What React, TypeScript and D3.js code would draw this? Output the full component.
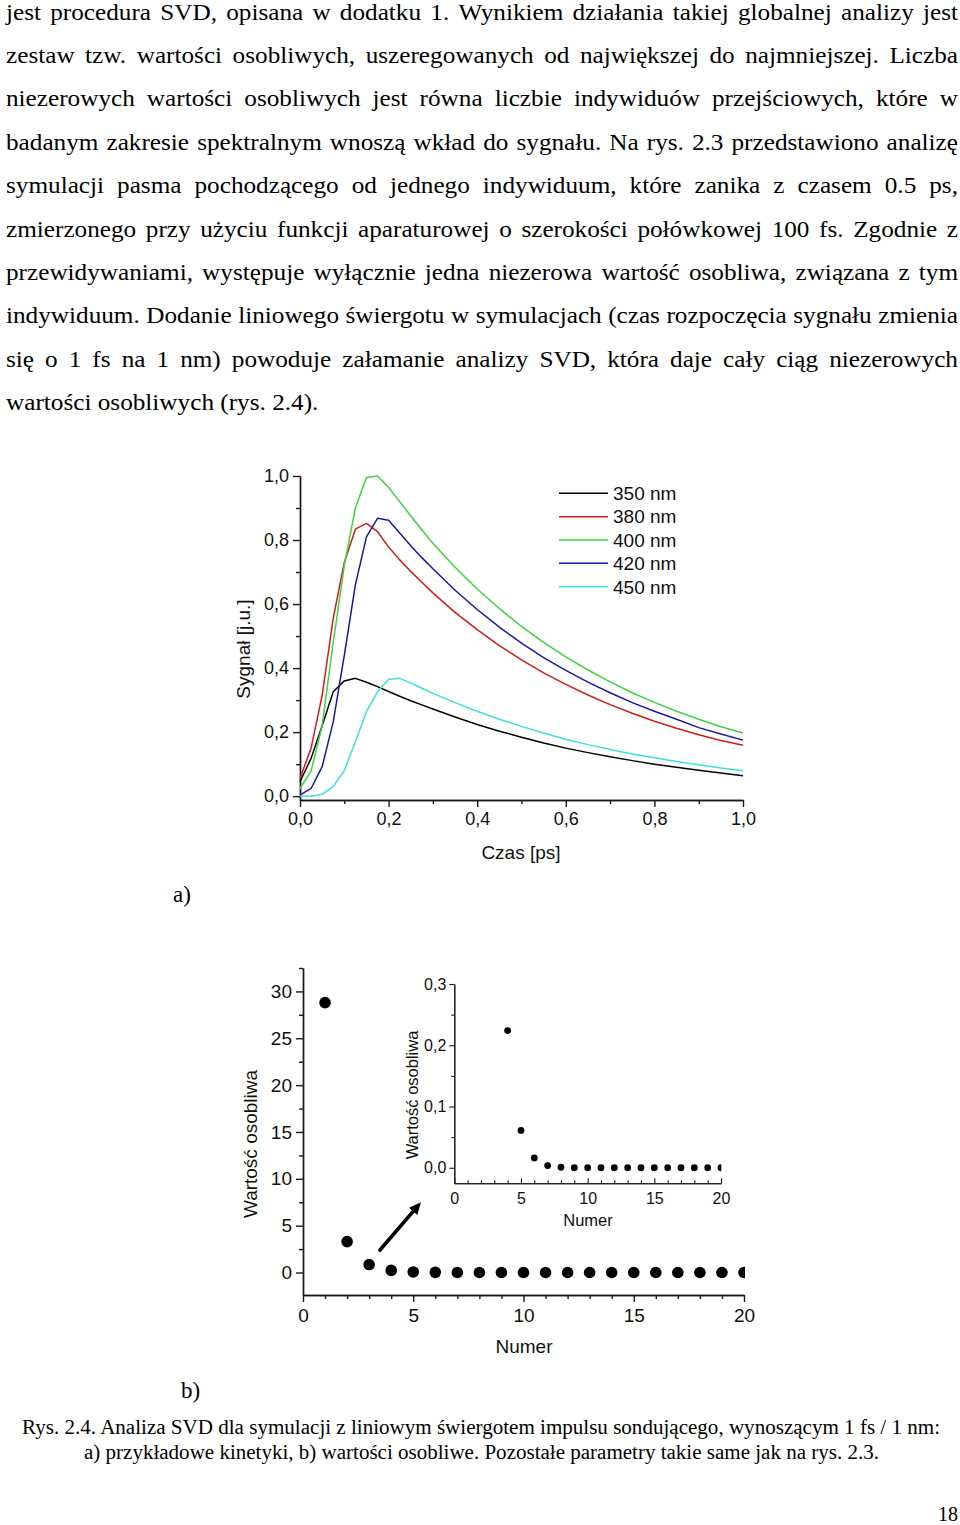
import * as d3 from "d3";
import { useEffect, useRef } from "react";

const paragraphLines = [
  "jest procedura SVD, opisana w dodatku 1. Wynikiem działania takiej globalnej analizy jest",
  "zestaw tzw. wartości osobliwych, uszeregowanych od największej do najmniejszej. Liczba",
  "niezerowych wartości osobliwych jest równa liczbie indywiduów przejściowych, które w",
  "badanym zakresie spektralnym wnoszą wkład do sygnału. Na rys. 2.3 przedstawiono analizę",
  "symulacji pasma pochodzącego od jednego indywiduum, które zanika z czasem 0.5 ps,",
  "zmierzonego przy użyciu funkcji aparaturowej o szerokości połówkowej 100 fs. Zgodnie z",
  "przewidywaniami, występuje wyłącznie jedna niezerowa wartość osobliwa, związana z tym",
  "indywiduum. Dodanie liniowego świergotu w symulacjach (czas rozpoczęcia sygnału zmienia",
  "się o 1 fs na 1 nm) powoduje załamanie analizy SVD, która daje cały ciąg niezerowych",
  "wartości osobliwych (rys. 2.4).",
];

const captionLines = [
  "Rys. 2.4. Analiza SVD dla symulacji z liniowym świergotem impulsu sondującego, wynoszącym 1 fs / 1 nm:",
  "a) przykładowe kinetyki, b) wartości osobliwe. Pozostałe parametry takie same jak na rys. 2.3.",
];

// a) kinetics
const timePs = [
  0, 0.025, 0.05, 0.075, 0.1, 0.125, 0.15, 0.175, 0.2, 0.225, 0.25, 0.275, 0.3,
  0.35, 0.4, 0.45, 0.5, 0.55, 0.6, 0.65, 0.7, 0.75, 0.8, 0.85, 0.9, 0.95, 1.0,
];
const wavelengths = ["350 nm", "380 nm", "400 nm", "420 nm", "450 nm"];
const signal350 = [
  0.045, 0.118, 0.22, 0.326, 0.36, 0.368, 0.356, 0.342, 0.327, 0.312, 0.298, 0.285, 0.272,
  0.247, 0.224, 0.203, 0.184, 0.166, 0.15, 0.136, 0.123, 0.111, 0.1, 0.09, 0.081, 0.072, 0.064,
];
const signal380 = [
  0.055, 0.15, 0.315, 0.555, 0.73, 0.834, 0.852, 0.826, 0.778, 0.738, 0.702, 0.668, 0.635,
  0.574, 0.52, 0.47, 0.426, 0.385, 0.349, 0.316, 0.286, 0.259, 0.234, 0.212, 0.192, 0.174, 0.159,
];
const signal400 = [
  0.024, 0.078, 0.22, 0.48, 0.72, 0.9, 0.995, 1.0, 0.965, 0.92, 0.875, 0.832, 0.79,
  0.715, 0.647, 0.586, 0.53, 0.48, 0.435, 0.394, 0.357, 0.323, 0.293, 0.265, 0.24, 0.217, 0.197,
];
const signal420 = [
  0.003, 0.024, 0.092, 0.232, 0.44, 0.66, 0.81, 0.868, 0.862, 0.822, 0.782, 0.745, 0.71,
  0.643, 0.583, 0.528, 0.478, 0.433, 0.393, 0.356, 0.323, 0.292, 0.265, 0.24, 0.214, 0.194, 0.175,
];
const signal450 = [
  0.0, 0.0, 0.006, 0.03, 0.08, 0.17, 0.264, 0.326, 0.365, 0.368, 0.354, 0.337, 0.321,
  0.292, 0.265, 0.24, 0.218, 0.197, 0.178, 0.161, 0.146, 0.132, 0.12, 0.108, 0.098, 0.088, 0.079,
];
const timeTicks = [0, 0.2, 0.4, 0.6, 0.8, 1.0];
const timeMinorTicks = [0.1, 0.3, 0.5, 0.7, 0.9];
const signalTicks = [0, 0.2, 0.4, 0.6, 0.8, 1.0];
const signalMinorTicks = [0.1, 0.3, 0.5, 0.7, 0.9];

// b) singular values
const componentNumbers = [1, 2, 3, 4, 5, 6, 7, 8, 9, 10, 11, 12, 13, 14, 15, 16, 17, 18, 19, 20];
const singularValues = [
  28.8, 3.3, 0.85, 0.224, 0.061, 0.016, 0.0035, 0.0008, 0, 0, 0, 0, 0, 0, 0, 0, 0, 0, 0, 0,
];
const numberTicks = [0, 5, 10, 15, 20];
const numberMinorTicks = [1, 2, 3, 4, 6, 7, 8, 9, 11, 12, 13, 14, 16, 17, 18, 19];
const valueTicks = [0, 5, 10, 15, 20, 25, 30];
const valueMinorTicks = [2.5, 7.5, 12.5, 17.5, 22.5, 27.5, 32.5];
const insetValueTicks = [0, 0.1, 0.2, 0.3];
const insetValueMinorTicks = [0.05, 0.15, 0.25];

const colors = ["#000000", "#d01c1c", "#3ed43e", "#1818a8", "#3ee0e0"];
const sans = "'Liberation Sans', Arial, sans-serif";
const serif = "'Liberation Serif', 'Times New Roman', serif";

type G = d3.Selection<SVGGElement, unknown, null, undefined>;

const App: React.FC = () => {
  const ref = useRef<SVGSVGElement | null>(null);

  useEffect(() => {
    if (!ref.current) return;
    const svg = d3.select(ref.current);
    svg.selectAll("*").remove();
    svg.attr("width", 960).attr("height", 1525);

    const comma1 = (d: d3.NumberValue) => d3.format(".1f")(+d).replace(".", ",");
    const styleAxis = (g: G, size: number, sw = 1.4) => {
      g.attr("font-family", sans).attr("font-size", size);
      g.selectAll("path, line").attr("stroke", "#1a1a1a").attr("stroke-width", sw);
      g.selectAll("text").attr("fill", "#111");
    };
    const styleAll = (parent: G, size: number, sw = 1.4) =>
      parent.selectAll<SVGGElement, unknown>("g").each(function () {
        styleAxis(d3.select(this) as unknown as G, size, sw);
      });

    // ---- paragraph (justified) ----
    const fs = 23;
    const sx = 1.097;
    const para = svg.append("g").attr("font-family", serif).attr("font-size", fs).attr("fill", "#000");
    paragraphLines.forEach((line, i) => {
      const g = para.append("g").attr("transform", `translate(6,${19.5 + i * 43.4}) scale(${sx},1)`);
      const words = line.split(" ");
      const texts = words.map((w) => g.append("text").text(w));
      const widths = texts.map((t) => (t.node() as SVGTextElement).getComputedTextLength());
      const last = i === paragraphLines.length - 1;
      const gap = last ? fs * 0.25 : (952 / sx - d3.sum(widths)) / (words.length - 1);
      let x = 0;
      texts.forEach((t, j) => {
        t.attr("x", x);
        x += widths[j] + gap;
      });
    });

    // ---- a) kinetics ----
    const x1 = d3.scaleLinear().domain([0, 1]).range([300, 743]);
    const y1 = d3.scaleLinear().domain([-0.012, 1]).range([800, 476]);

    const ax1 = svg.append("g").attr("transform", "translate(0,800)");
    ax1.append("g").call(d3.axisBottom(x1).tickValues(timeMinorTicks).tickSize(4).tickSizeOuter(0).tickFormat(() => ""));
    ax1.append("g").call(d3.axisBottom(x1).tickValues(timeTicks).tickSize(7).tickSizeOuter(0).tickPadding(5).tickFormat(comma1));
    styleAll(ax1, 18);

    const ay1 = svg.append("g").attr("transform", "translate(300,0)");
    ay1.append("g").call(d3.axisLeft(y1).tickValues(signalMinorTicks).tickSize(4).tickSizeOuter(0).tickFormat(() => ""));
    ay1.append("g").call(d3.axisLeft(y1).tickValues(signalTicks).tickSize(7).tickSizeOuter(0).tickPadding(4).tickFormat(comma1));
    styleAll(ay1, 18);

    const series = [signal350, signal380, signal400, signal420, signal450];
    const line1 = d3
      .line<number>()
      .x((_, i) => x1(timePs[i]))
      .y((d) => y1(d));
    series.forEach((s, i) => {
      svg.append("path").datum(s).attr("d", line1).attr("fill", "none")
        .attr("stroke", colors[i]).attr("stroke-width", 1.5).attr("stroke-linejoin", "round");
    });

    const legend = svg.append("g").attr("font-family", sans).attr("font-size", 19);
    wavelengths.forEach((w, i) => {
      const ly = 493.3 + i * 23.35;
      legend.append("line").attr("x1", 559).attr("x2", 608).attr("y1", ly).attr("y2", ly)
        .attr("stroke", colors[i]).attr("stroke-width", 1.5);
      legend.append("text").attr("x", 613).attr("y", ly).attr("dy", "0.36em").attr("fill", "#111").text(w);
    });

    svg.append("text").attr("x", 521).attr("y", 859).attr("text-anchor", "middle")
      .attr("font-family", sans).attr("font-size", 19).attr("fill", "#111").text("Czas [ps]");
    svg.append("text").attr("transform", "translate(243,649) rotate(-90)").attr("dy", "0.35em")
      .attr("text-anchor", "middle").attr("font-family", sans).attr("font-size", 19).attr("fill", "#111")
      .text("Sygnał [j.u.]");

    svg.append("text").attr("x", 173).attr("y", 902).attr("font-family", serif).attr("font-size", 23).text("a)");

    // ---- b) singular values ----
    const x2 = d3.scaleLinear().domain([0, 20]).range([303, 744]);
    const y2 = d3.scaleLinear().domain([-2.4, 32.5]).range([1295, 968]);

    const ax2 = svg.append("g").attr("transform", "translate(0,1295)");
    ax2.append("g").call(d3.axisBottom(x2).tickValues(numberMinorTicks).tickSize(4).tickSizeOuter(0).tickFormat(() => ""));
    ax2.append("g").call(d3.axisBottom(x2).tickValues(numberTicks).tickSize(7).tickSizeOuter(0).tickPadding(7).tickFormat(d3.format("d")));
    styleAll(ax2, 19);

    const ay2 = svg.append("g").attr("transform", "translate(303,0)");
    ay2.append("g").call(d3.axisLeft(y2).tickValues(valueMinorTicks).tickSize(4).tickSizeOuter(0).tickFormat(() => ""));
    ay2.append("g").call(d3.axisLeft(y2).tickValues(valueTicks).tickSize(7).tickSizeOuter(0).tickPadding(4).tickFormat(d3.format("d")));
    styleAll(ay2, 19);

    const points = singularValues.map((v, i) => ({ n: componentNumbers[i], v }));

    svg.append("clipPath").attr("id", "clipMain").append("rect")
      .attr("x", 303).attr("y", 960).attr("width", 442).attr("height", 335);
    svg.append("g").attr("clip-path", "url(#clipMain)").selectAll("circle")
      .data(points).join("circle")
      .attr("cx", (d) => x2(d.n)).attr("cy", (d) => y2(d.v)).attr("r", 5.8).attr("fill", "#000");

    svg.append("text").attr("x", 524).attr("y", 1353).attr("text-anchor", "middle")
      .attr("font-family", sans).attr("font-size", 19).attr("fill", "#111").text("Numer");
    svg.append("text").attr("transform", "translate(250,1144) rotate(-90)").attr("dy", "0.35em")
      .attr("text-anchor", "middle").attr("font-family", sans).attr("font-size", 19).attr("fill", "#111")
      .text("Wartość osobliwa");

    // arrow
    const ax0 = x2(3.49), ay0 = y2(2.4), axe = x2(5.35), aye = y2(7.5);
    const len = Math.hypot(axe - ax0, aye - ay0);
    const ux = (axe - ax0) / len, uy = (aye - ay0) / len;
    const hl = 12, hw = 5.5;
    const bx = axe - ux * hl, by = aye - uy * hl;
    svg.append("line").attr("x1", ax0).attr("y1", ay0).attr("x2", bx + ux * 2).attr("y2", by + uy * 2)
      .attr("stroke", "#000").attr("stroke-width", 3.6).attr("stroke-linecap", "round");
    svg.append("polygon")
      .attr("points", [[axe, aye], [bx - uy * hw, by + ux * hw], [bx + uy * hw, by - ux * hw]].map((p) => p.join(",")).join(" "))
      .attr("fill", "#000");

    // inset
    const x3 = d3.scaleLinear().domain([0, 20]).range([454.3, 721]);
    const y3 = d3.scaleLinear().domain([-0.0254, 0.3]).range([1183.3, 984]);

    const ax3 = svg.append("g").attr("transform", "translate(0,1183.3)");
    ax3.append("g").call(d3.axisBottom(x3).tickValues(numberMinorTicks).tickSize(-3).tickSizeOuter(0).tickFormat(() => ""));
    ax3.append("g").call(d3.axisBottom(x3).tickValues(numberTicks).tickSize(-5).tickSizeOuter(0).tickPadding(9).tickFormat(d3.format("d")));
    styleAll(ax3, 16, 1.1);

    const ay3 = svg.append("g").attr("transform", "translate(454.3,0)");
    ay3.append("g").call(d3.axisLeft(y3).tickValues(insetValueMinorTicks).tickSize(3).tickSizeOuter(0).tickFormat(() => ""));
    ay3.append("g").call(d3.axisLeft(y3).tickValues(insetValueTicks).tickSize(5).tickSizeOuter(0).tickPadding(3).tickFormat(comma1));
    styleAll(ay3, 16, 1.1);

    svg.append("clipPath").attr("id", "clipInset").append("rect")
      .attr("x", 454.3).attr("y", 980).attr("width", 267).attr("height", 203);
    svg.append("g").attr("clip-path", "url(#clipInset)").selectAll("circle")
      .data(points.filter((d) => d.v <= 0.3)).join("circle")
      .attr("cx", (d) => x3(d.n)).attr("cy", (d) => y3(d.v)).attr("r", 3.4).attr("fill", "#000");

    svg.append("text").attr("x", 588).attr("y", 1226).attr("text-anchor", "middle")
      .attr("font-family", sans).attr("font-size", 16.5).attr("fill", "#111").text("Numer");
    svg.append("text").attr("transform", "translate(412,1095) rotate(-90)").attr("dy", "0.35em")
      .attr("text-anchor", "middle").attr("font-family", sans).attr("font-size", 16.5).attr("fill", "#111")
      .text("Wartość osobliwa");

    svg.append("text").attr("x", 181).attr("y", 1398).attr("font-family", serif).attr("font-size", 23).text("b)");

    // ---- caption ----
    const cap = svg.append("g").attr("font-family", serif).attr("font-size", 20).attr("fill", "#000");
    const capBox = [
      [22, 918, 1434],
      [84, 795, 1459],
    ];
    captionLines.forEach((c, i) => {
      cap.append("text").attr("x", capBox[i][0]).attr("y", capBox[i][2])
        .attr("textLength", capBox[i][1]).attr("lengthAdjust", "spacingAndGlyphs").text(c);
    });
    svg.append("text").attr("x", 958).attr("y", 1521).attr("text-anchor", "end")
      .attr("font-family", serif).attr("font-size", 20).text("18");
  }, []);

  return (
    <svg
      ref={ref}
      style={{ position: "absolute", left: 0, top: 0, display: "block", background: "#fff" }}
    ></svg>
  );
};

export default App;
